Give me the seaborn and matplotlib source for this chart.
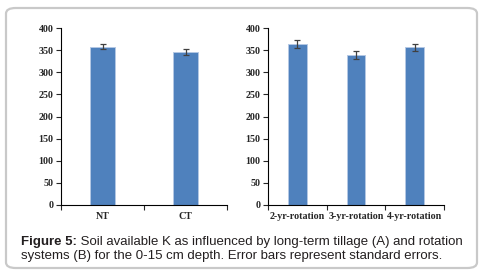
import matplotlib
matplotlib.use("Agg")
import matplotlib.pyplot as plt
import numpy as np
import pandas as pd
import seaborn as sns
from matplotlib.patches import FancyBboxPatch

# Panel A: tillage
tillage = ["NT", "CT"]
tillage_k = [358, 346]
tillage_se = [6, 6]

# Panel B: rotation
rotation = ["2-yr-rotation", "3-yr-rotation", "4-yr-rotation"]
rotation_k = [364, 339, 356]
rotation_se = [9, 8, 7]

y_ticks = list(range(0, 401, 50))

caption_bold = "Figure 5:"
caption_rest = " Soil available K as influenced by long-term tillage (A) and rotation"
caption_line2 = "systems (B) for the 0-15 cm depth. Error bars represent standard errors."

sns.set_style("white")
plt.rcParams["font.family"] = ["Liberation Serif", "DejaVu Serif"]

BAR = "#4f81bd"
W, H = 487, 279
fig = plt.figure(figsize=(W / 100, H / 100), dpi=100)
fig.patch.set_facecolor("white")

frame = FancyBboxPatch((6 / W, 1 - 268 / H), 471 / W, 260 / H,
                       boxstyle="round,pad=0,rounding_size=0.02",
                       transform=fig.transFigure, facecolor="none",
                       edgecolor="#c9c9c9", linewidth=1.6)
fig.patches.append(frame)


def panel(rect, cats, vals, errs, width):
    ax = fig.add_axes(rect)
    df = pd.DataFrame({"cat": cats, "val": vals})
    sns.barplot(data=df, x="cat", y="val", color=BAR, saturation=1,
                width=width, edgecolor="#b4c8e4", linewidth=0.7, ax=ax)
    ax.errorbar(np.arange(len(cats)), vals, yerr=errs, fmt="none",
                ecolor="#404040", elinewidth=0.9, capsize=2.5, capthick=0.9)
    ax.set_xlim(-0.5, len(cats) - 0.5)
    ax.set_ylim(0, 400)
    ax.set_yticks(y_ticks)
    ax.set_xticks(np.arange(-0.5, len(cats)), minor=True)
    ax.tick_params(axis="x", which="major", length=0, pad=5)
    ax.tick_params(axis="x", which="minor", length=3.5, width=0.8,
                   direction="out", bottom=True)
    ax.tick_params(axis="y", length=3.5, width=0.8, direction="out",
                   left=True, pad=2)
    for lab in ax.get_xticklabels() + ax.get_yticklabels():
        lab.set_fontweight("bold")
        lab.set_fontsize(7.2)
    ax.set_xlabel("")
    ax.set_ylabel("")
    sns.despine(ax=ax)
    for s in ("left", "bottom"):
        ax.spines[s].set_color("black")
        ax.spines[s].set_linewidth(0.8)
    return ax


bottom = 1 - 205 / H
height = 177 / H
panel([61 / W, bottom, 166 / W, height], tillage, tillage_k, tillage_se, 0.31)
panel([268 / W, bottom, 176 / W, height], rotation, rotation_k, rotation_se, 0.32)

sans = ["Liberation Sans", "DejaVu Sans"]
fs = 9.55
t = fig.text(21 / W, 1 - 245 / H, caption_bold, fontsize=fs, fontweight="bold",
             family=sans, color="#231f20", va="baseline")
fig.canvas.draw()
bb = t.get_window_extent()
fig.text(bb.x1 / W, 1 - 245 / H, caption_rest, fontsize=fs, family=sans,
         color="#231f20", va="baseline")
fig.text(21 / W, 1 - 259 / H, caption_line2, fontsize=fs, family=sans,
         color="#231f20", va="baseline")

fig.savefig("out.png", dpi=100)
